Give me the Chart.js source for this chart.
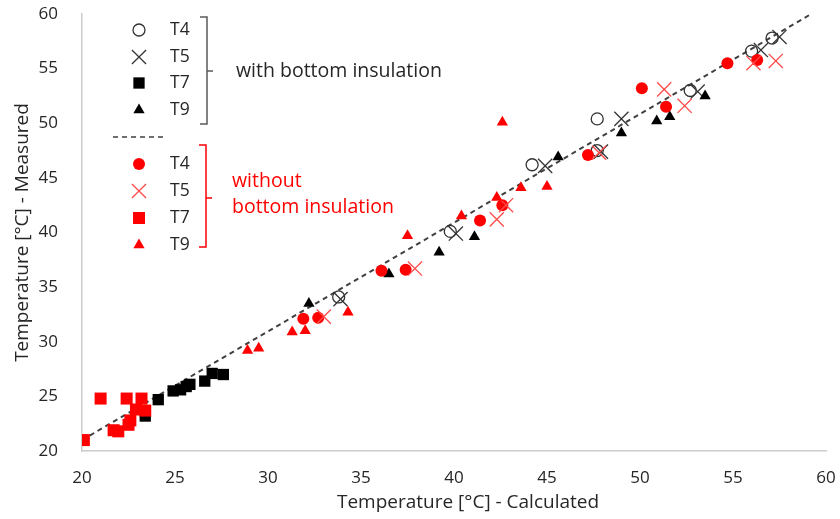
<!DOCTYPE html>
<html>
<head>
<meta charset="utf-8">
<script src="https://cdn.jsdelivr.net/npm/chart.js@4/dist/chart.umd.min.js"></script>
<style>
  html, body { margin: 0; padding: 0; background: #fff; }
  #wrap { width: 840px; height: 519px; }
</style>
</head>
<body>
<div id="wrap"><canvas id="c" width="840" height="519"></canvas></div>
<script>
// Measured vs calculated temperatures, [calculated, measured]
const withT4 = [[33.8,34.1],[39.8,40.1],[44.2,46.2],[47.7,50.4],[47.7,47.5],[52.7,53.0],[56.0,56.6],[57.1,57.8]];
const withT5 = [[33.9,33.9],[40.1,39.9],[44.9,46.1],[49.0,50.4],[47.9,47.4],[53.1,52.9],[56.5,56.7],[57.5,57.9]];
const withT7 = [[23.4,23.2],[24.1,24.7],[24.9,25.5],[25.3,25.6],[25.6,25.9],[25.8,26.1],[26.6,26.4],[27.0,27.1],[27.6,27.0]];
const withT9 = [[32.2,33.5],[36.5,36.2],[39.2,38.2],[41.1,39.6],[45.6,46.9],[49.0,49.1],[50.9,50.2],[51.6,50.6],[53.5,52.5]];

const withoutT4 = [[31.9,32.1],[32.7,32.2],[36.1,36.5],[37.4,36.6],[41.4,41.1],[42.6,42.5],[47.2,47.1],[50.1,53.2],[51.4,51.5],[54.7,55.5],[56.3,55.8]];
const withoutT5 = [[33.0,32.3],[37.9,36.7],[42.3,41.2],[42.8,42.5],[47.8,47.3],[51.3,53.1],[52.4,51.6],[56.1,55.5],[57.3,55.7]];
const withoutT7 = [[20.1,21.0],[21.0,24.8],[21.7,21.9],[21.95,21.8],[22.4,24.8],[22.5,22.4],[22.6,22.8],[22.9,23.8],[23.2,24.8],[23.4,23.7]];
const withoutT9 = [[28.9,29.2],[29.5,29.4],[31.3,30.9],[32.0,31.0],[34.3,32.7],[37.5,39.7],[40.4,41.5],[42.3,43.2],[42.6,50.1],[43.6,44.1],[45.0,44.2]];

// Reference line
const refLine = [[20.0,21.0],[59.2,60.0]];

const axisTicks = [20,25,30,35,40,45,50,55,60];
const xTitle = 'Temperature [°C] - Calculated';
const yTitle = 'Temperature [°C] - Measured';
const groupWith = "with bottom insulation";
const groupWithout = ["without", "bottom insulation"];
const probeNames = ["T4","T5","T7","T9"];

const RED = '#ff0000';
const RED_X = '#ff4a4a';
const DARK = '#262626';
const FONT = '"Open Sans", Lato, sans-serif';

const pts = arr => arr.map(([x, y]) => ({ x, y }));

const markers = {
  T4w: { pointStyle: 'circle', radius: 6, backgroundColor: 'rgba(0,0,0,0)', borderColor: '#333', borderWidth: 1.3 },
  T5w: { pointStyle: 'crossRot', radius: 10, backgroundColor: '#333', borderColor: '#333', borderWidth: 1.3 },
  T7w: { pointStyle: 'rect', radius: 8, backgroundColor: '#000', borderColor: '#000', borderWidth: 0 },
  T9w: { pointStyle: 'triangle', radius: 6.5, backgroundColor: '#000', borderColor: '#000', borderWidth: 0 },
  T4o: { pointStyle: 'circle', radius: 6, backgroundColor: RED, borderColor: RED, borderWidth: 0 },
  T5o: { pointStyle: 'crossRot', radius: 10, backgroundColor: RED_X, borderColor: RED_X, borderWidth: 1.3 },
  T7o: { pointStyle: 'rect', radius: 8.5, backgroundColor: RED, borderColor: RED, borderWidth: 0 },
  T9o: { pointStyle: 'triangle', radius: 6.5, backgroundColor: RED, borderColor: RED, borderWidth: 0 }
};

function ds(label, data, m, order) {
  return {
    type: 'scatter', label, data: pts(data), order,
    pointStyle: m.pointStyle, pointRadius: m.radius, pointHoverRadius: m.radius,
    pointBackgroundColor: m.backgroundColor, pointBorderColor: m.borderColor,
    pointBorderWidth: m.borderWidth, showLine: false
  };
}

// Draws one legend marker using the same geometry as Chart.js point styles
function drawMarker(ctx, m, x, y) {
  const r = m.radius;
  ctx.save();
  ctx.fillStyle = m.backgroundColor;
  ctx.strokeStyle = m.borderColor;
  ctx.lineWidth = m.borderWidth || 1;
  ctx.beginPath();
  if (m.pointStyle === 'circle') {
    ctx.arc(x, y, r, 0, Math.PI * 2);
    ctx.fill();
    if (m.borderWidth > 0) ctx.stroke();
  } else if (m.pointStyle === 'crossRot') {
    const o = r * Math.SQRT1_2;
    ctx.moveTo(x - o, y - o); ctx.lineTo(x + o, y + o);
    ctx.moveTo(x - o, y + o); ctx.lineTo(x + o, y - o);
    ctx.stroke();
  } else if (m.pointStyle === 'rect') {
    const s = r * Math.SQRT1_2;
    ctx.rect(x - s, y - s, 2 * s, 2 * s);
    ctx.fill();
  } else if (m.pointStyle === 'triangle') {
    for (let i = 0; i < 3; i++) {
      const a = i * 2 * Math.PI / 3;
      const px = x + Math.sin(a) * r, py = y - Math.cos(a) * r;
      if (i === 0) ctx.moveTo(px, py); else ctx.lineTo(px, py);
    }
    ctx.closePath();
    ctx.fill();
  }
  ctx.restore();
}

function bracket(ctx, x, top, bottom, mid, color) {
  ctx.save();
  ctx.strokeStyle = color;
  ctx.lineWidth = 1.5;
  ctx.beginPath();
  ctx.moveTo(x - 7, top); ctx.lineTo(x, top);
  ctx.lineTo(x, bottom); ctx.lineTo(x - 7, bottom);
  ctx.moveTo(x, mid); ctx.lineTo(x + 6, mid);
  ctx.stroke();
  ctx.restore();
}

const legendPlugin = {
  id: 'groupLegend',
  afterDraw(chart) {
    const ctx = chart.ctx;
    ctx.save();
    ctx.textBaseline = 'middle';
    ctx.textAlign = 'left';
    const mx = 139, tx = 170;
    const keysW = ['T4w','T5w','T7w','T9w'];
    const keysO = ['T4o','T5o','T7o','T9o'];
    const rowsW = [30, 57, 83, 110];
    const rowsO = [164, 191, 218, 245];
    ctx.font = '17.5px ' + FONT;
    keysW.forEach((k, i) => {
      drawMarker(ctx, markers[k], mx, rowsW[i]);
      ctx.fillStyle = DARK;
      ctx.fillText(probeNames[i], tx, rowsW[i]);
    });
    keysO.forEach((k, i) => {
      drawMarker(ctx, markers[k], mx, rowsO[i]);
      ctx.fillStyle = DARK;
      ctx.fillText(probeNames[i], tx, rowsO[i]);
    });
    bracket(ctx, 207, 17, 124, 71, '#595959');
    bracket(ctx, 206, 145, 247, 198, RED);
    ctx.font = '19.5px ' + FONT;
    ctx.fillStyle = DARK;
    ctx.fillText(groupWith, 236, 71);
    ctx.fillStyle = RED;
    ctx.fillText(groupWithout[0], 232, 181);
    ctx.fillText(groupWithout[1], 232, 207);
    // separator between the two groups
    ctx.strokeStyle = '#404040';
    ctx.lineWidth = 1.5;
    ctx.setLineDash([5, 4]);
    ctx.beginPath();
    ctx.moveTo(113, 137); ctx.lineTo(163, 137);
    ctx.stroke();
    ctx.setLineDash([]);
    // x axis title
    ctx.font = '19px ' + FONT;
    ctx.fillStyle = DARK;
    ctx.textAlign = 'center';
    ctx.fillText(xTitle, 468, 503);
    ctx.restore();
  }
};

const tickFont = { family: FONT, size: 17 };
const titleFont = { family: FONT, size: 19 };

// keep the plot area fixed regardless of label overhang
function noOverhang(s) {
  s.paddingLeft = 0; s.paddingRight = 0; s.paddingTop = 0; s.paddingBottom = 0;
}

new Chart(document.getElementById('c'), {
  data: {
    datasets: [
      {
        type: 'line', label: 'y = x', data: pts(refLine), order: 20,
        borderColor: '#404040', borderWidth: 2, borderDash: [5, 4],
        pointRadius: 0, fill: false, tension: 0
      },
      ds('T4 with', withT4, markers.T4w, 8),
      ds('T5 with', withT5, markers.T5w, 7),
      ds('T7 with', withT7, markers.T7w, 6),
      ds('T9 with', withT9, markers.T9w, 5),
      ds('T4 without', withoutT4, markers.T4o, 4),
      ds('T5 without', withoutT5, markers.T5o, 3),
      ds('T7 without', withoutT7, markers.T7o, 2),
      ds('T9 without', withoutT9, markers.T9o, 1)
    ]
  },
  options: {
    responsive: false,
    animation: false,
    layout: { padding: { left: 0, right: 14, top: 14, bottom: 0 } },
    plugins: { legend: { display: false }, tooltip: { enabled: false } },
    scales: {
      x: {
        type: 'linear', min: 20, max: 60,
        afterBuildTicks: s => { s.ticks = axisTicks.map(v => ({ value: v })); },
        afterFit: s => { s.height = 68; noOverhang(s); },
        grid: { display: false },
        border: { display: true, color: '#cccccc', width: 1.5 },
        ticks: { color: DARK, font: tickFont, padding: 9 }
      },
      y: {
        type: 'linear', min: 20, max: 60,
        afterBuildTicks: s => { s.ticks = axisTicks.map(v => ({ value: v })); },
        afterFit: s => { s.width = 82; noOverhang(s); },
        grid: { display: false },
        border: { display: true, color: '#cccccc', width: 1.5 },
        ticks: { color: DARK, font: tickFont, padding: 16 },
        title: { display: true, text: yTitle, color: DARK, font: titleFont, padding: { top: 11, bottom: 0 } }
      }
    }
  },
  plugins: [legendPlugin]
});
</script>
</body>
</html>
